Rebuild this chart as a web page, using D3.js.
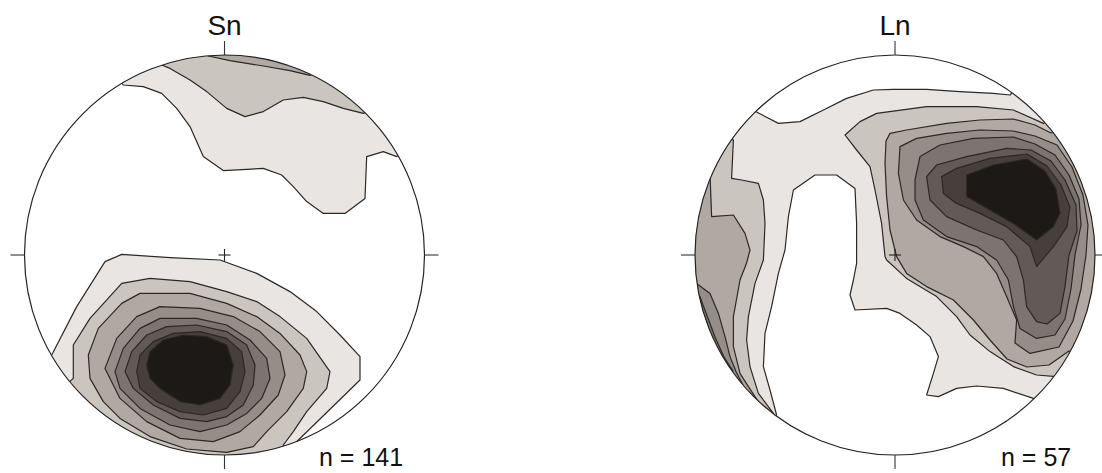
<!DOCTYPE html>
<html>
<head>
<meta charset="utf-8">
<script src="https://cdn.jsdelivr.net/npm/d3@7"></script>
<style>
  body { margin: 0; background: #fff; }
  svg { display: block; }
</style>
</head>
<body>
<div id="chart"></div>
<script>
// contour polygons in equal-area net units (percent of primitive radius, x east, y north)
// levels 1 (lowest density) .. 8 (highest)
const densityLevels = [1, 2, 3, 4, 5, 6, 7, 8];

const snContours = [
  { level: 1, pts: [[-56,92],[-50.6,85],[-40.6,84.2],[-31.4,80.8],[-23.9,73.3],[-17.25,64.2],[-10.6,49.2],[-0.6,42.2],[19.4,43.3],[28.6,40],[34.4,34.2],[41.1,26.7],[49.4,20.8],[60.25,20.8],[70.25,28.3],[71.1,49.2],[79.4,51.7],[86.1,49.2],[95,55],[60,100],[0,115],[-60,100]] },
  { level: 2, pts: [[-35,105],[-31.4,95],[-27.25,93.3],[-17.25,87.5],[-8.9,81.7],[1.1,73.3],[10.25,69.2],[19.4,71.7],[29.4,77.5],[39.4,78.8],[49.4,76.7],[59.4,73.3],[69.4,70.8],[76,74],[40,100]] },
  { level: 3, pts: [[-10,110],[-8.1,99.5],[2.75,97.2],[19.4,94.5],[32.75,92.2],[42.75,89.8],[50,95],[20,110]] },
  { level: 1, pts: [[-105,-58],[-86.4,-50],[-73.9,-25.8],[-59.75,-3.3],[-51.4,0.3],[-27.25,-1.3],[-2.25,-2.5],[16.1,-9.2],[32.75,-18.3],[46.1,-28.3],[57.75,-40],[67.75,-50.8],[67.75,-62.5],[34.4,-95],[38,-115],[-60,-110]] },
  { level: 2, pts: [[-85,-70],[-75.6,-61.7],[-75.6,-45],[-67.25,-31.7],[-51.4,-14.2],[-37.25,-11.7],[-17.25,-13.3],[1.1,-18.3],[16.1,-23.3],[27.75,-30.8],[41.1,-41.7],[52.75,-58.3],[51.1,-66.7],[41.1,-78.3],[34.4,-88.3],[29.4,-95],[28,-110],[-40,-110]] },
  { level: 3, pts: [[-67.25,-61.7],[-68.1,-50],[-63.1,-36.7],[-51.4,-24.2],[-42.25,-19.2],[-17.25,-19.2],[1.1,-24.2],[16.1,-30.8],[27.75,-39.2],[37.75,-50],[41.1,-58.3],[39.4,-66.7],[31.1,-78.3],[21.1,-88.3],[14.4,-95.8],[1.1,-98.7],[-18.9,-97],[-37.25,-90.8],[-52.25,-81.7],[-60.6,-73.3]] },
  { level: 4, pts: [[-59.75,-56.7],[-53.9,-41.7],[-43.9,-30.8],[-32.25,-25.8],[-12.25,-26.7],[4.4,-30.8],[17.75,-38.3],[27.75,-48.3],[30.25,-60],[26.9,-70],[17.75,-80],[7.75,-88.3],[-5.6,-93.3],[-22.25,-91.7],[-38.9,-83.3],[-52.25,-71.7]] },
  { level: 5, pts: [[-54.75,-58.3],[-50.6,-46.7],[-42.25,-36.7],[-32.25,-31.7],[-13.9,-31.7],[1.1,-35],[12.75,-42.5],[21.1,-51.7],[22.75,-61.7],[18.6,-71.7],[11.1,-79.2],[1.1,-85],[-12.25,-88.3],[-27.25,-85],[-42.25,-76.7],[-52.25,-66.7]] },
  { level: 6, pts: [[-49.75,-58.3],[-46.4,-48.3],[-38.9,-40],[-28.9,-35.8],[-13.9,-35],[1.1,-38.3],[11.1,-45],[15.25,-55],[14.4,-65],[9.4,-75],[1.1,-80.8],[-8.9,-83.3],[-22.25,-81.7],[-35.6,-75],[-45.6,-66.7]] },
  { level: 7, pts: [[-43.9,-58.3],[-42.25,-50],[-35.6,-43.3],[-25.6,-39.2],[-12.25,-38.3],[1.1,-41.7],[8.6,-48.3],[10.25,-58.3],[7.75,-68.3],[1.1,-76.7],[-10.6,-80],[-22.25,-78.3],[-33.9,-73.3],[-42.25,-66.7]] },
  { level: 8, pts: [[-38.9,-55],[-37.25,-48.3],[-30.6,-42.5],[-20.6,-40],[-8.9,-40.8],[1.1,-45],[4.4,-55],[2.75,-65],[-2.25,-71.7],[-12.25,-75],[-22.25,-73.3],[-32.25,-66.7],[-37.25,-61.7]] }
];

const lnContours = [
  { level: 1, pts: [[-80,78],[-69.2,71.5],[-58.3,65.8],[-47.5,66.7],[-35.8,72.5],[-24.2,78.3],[-10.8,82.5],[-0.8,82.8],[15.8,82.8],[32.5,81.7],[49.2,80.8],[57.5,80],[62,85],[110,40],[110,-40],[80,-75],[69.2,-71.7],[54.2,-66.7],[40.8,-65.5],[30.8,-66.7],[21.7,-70.8],[15.8,-70],[19.2,-59.2],[21.7,-50.8],[17.5,-40.8],[10.8,-35],[2.5,-29.2],[-4.2,-26.7],[-20,-27.5],[-22.5,-20],[-20.8,-12.5],[-19.2,-4.2],[-19.2,15.8],[-20,33.3],[-29.2,40],[-40,40],[-50.8,32.5],[-53.3,19.2],[-55,2.5],[-58.3,-9.2],[-61.7,-25.8],[-65,-39.2],[-65.8,-55.8],[-62.5,-67.5],[-59.2,-80],[-65,-90],[-112,0]] },
  { level: 2, pts: [[-90,62],[-80.8,57.5],[-81.7,38.3],[-76.7,37.5],[-68.3,35.8],[-65.8,27.5],[-65,15.8],[-65.8,-2.5],[-70,-14.2],[-73.3,-30.8],[-74.2,-42.5],[-72.5,-55.8],[-68.3,-69.2],[-60.8,-79.2],[-70,-90],[-115,0]] },
  { level: 2, pts: [[-25,60],[-17.5,66.7],[-9.2,70.8],[15.8,74.2],[40.8,74.2],[59.2,72.5],[74.2,65.8],[85,72],[112,0],[92,-70],[80.8,-60.8],[70.8,-60],[59.2,-55.8],[47.5,-48.3],[37.5,-40],[30.8,-30.8],[20.8,-20.8],[5.8,-11.7],[-4.2,-2.5],[-5,-0.8],[-6.7,15.8],[-10,32.5],[-12.5,44.2],[-19.2,52.5]] },
  { level: 3, pts: [[-100,45],[-92.5,40.8],[-91.7,19.2],[-80.8,20],[-75,10.8],[-72.5,2.5],[-74.2,-4],[-77.5,-12.5],[-80.8,-30.8],[-80.8,-45.8],[-77.5,-59.2],[-73.3,-65.8],[-66.7,-75.8],[-75,-80],[-115,0]] },
  { level: 3, pts: [[-2.5,60.8],[5.8,62.5],[25.8,65.8],[42.5,67.5],[59.2,68],[70,65],[78,61],[92,65],[115,0],[100,-60],[87,-48],[77,-55],[66,-56],[56,-52],[47.5,-42.5],[39.2,-32.5],[29.2,-22.5],[15.8,-15.8],[5.8,-9.2],[0.8,-0.8],[-2.5,12.5],[-4.2,29.2],[-5,45.8],[-4.5,57]] },
  { level: 4, pts: [[-110,-15],[-99.2,-14.2],[-92.5,-19.2],[-88.3,-29.2],[-85,-40.8],[-82.5,-50.8],[-79.4,-58.5],[-76,-65],[-85,-70]] },
  { level: 4, pts: [[2.5,54.2],[10.8,58.3],[25.8,60.8],[42.5,62.5],[59.2,62],[70,59.5],[81,55],[88.5,44],[94,30],[96.5,15],[95.5,0],[93,-17],[89,-33],[82,-46],[67.5,-49.2],[60,-44],[60.8,-32.5],[55.8,-20.8],[50.8,-9.2],[44.2,-0.8],[34.2,4.2],[22.5,9.2],[10.8,17.5],[4.2,27.5],[1.7,40.8]] },
  { level: 5, pts: [[-110,-20],[-97.5,-20.8],[-93.8,-30.8],[-90,-41],[-85.5,-51],[-81,-58],[-90,-65]] },
  { level: 5, pts: [[10,37.5],[12.5,49.2],[22.5,55],[39.2,58.3],[59.2,59],[70,55.5],[80,50],[87,40],[92,28],[93,15],[90,0],[88,-17],[85,-32],[80,-40],[70.8,-41.7],[62.5,-36.7],[59.2,-25.8],[56.7,-12.5],[50.8,-2.5],[40.8,4.2],[25.8,9.2],[14.2,17.5],[10,27.5]] },
  { level: 6, pts: [[15.8,39.2],[20.8,45],[35.8,49.2],[55.8,53.3],[68,52.5],[78,47],[85,37.5],[90.5,25],[91,12],[87,0],[85,-15.8],[82.5,-29.2],[76,-34.5],[70.8,-33.3],[65.8,-25.8],[64.2,-12.5],[60.8,-0.8],[54.2,7.5],[40.8,12.5],[25.8,19.2],[17.5,27.5]] },
  { level: 7, pts: [[23.3,39.2],[30.8,43.3],[47.5,48.3],[66,50.5],[76,44.5],[83,35],[87.5,24],[86,14.2],[79.2,4.2],[70.8,-5.8],[67.5,4.2],[55.8,14.2],[42.5,20.8],[30.8,25.8],[24.2,30.8]] },
  { level: 8, pts: [[35.8,40],[49.2,45],[66,48],[75,42],[80.5,33],[82.5,21],[79.2,14.2],[70.8,7.5],[59.2,15.8],[47.5,22.5],[35.8,29.2]] }
];

const netTitles = ["Sn", "Ln"];
const netCounts = [141, 57];

const shades = ["#e8e5e2", "#cbc5c0", "#b0a8a3", "#958d88", "#7b7470", "#615a57", "#463f3c", "#1d1916"];
const shade = d3.scaleOrdinal().domain(densityLevels).range(shades);

const width = 1102, height = 473, R = 200;
const svg = d3.select("#chart").append("svg")
  .attr("width", width)
  .attr("height", height)
  .style("font-family", "'Liberation Sans', Arial, sans-serif");

svg.append("rect").attr("width", width).attr("height", height).attr("fill", "#fff");

function drawNet(id, cx, cy, contours, title, count, countX) {
  let x = d3.scaleLinear().domain([-100, 100]).range([cx - R, cx + R]);
  let y = d3.scaleLinear().domain([-100, 100]).range([cy + R, cy - R]);
  let g = svg.append("g");

  g.append("clipPath").attr("id", id)
    .append("circle")
    .attr("cx", x(0)).attr("cy", y(0)).attr("r", x(100) - x(0));

  let line = d3.line()
    .x(d => x(d[0]))
    .y(d => y(d[1]))
    .curve(d3.curveLinearClosed);

  let sorted = contours.slice().sort((a, b) => a.level - b.level);

  g.append("g")
    .attr("clip-path", `url(#${id})`)
    .selectAll("path")
    .data(sorted)
    .join("path")
    .attr("d", d => line(d.pts))
    .attr("fill", d => shade(d.level))
    .attr("stroke", "#2b2826")
    .attr("stroke-width", 1.2)
    .attr("stroke-linejoin", "round");

  // primitive circle
  g.append("circle")
    .attr("cx", x(0)).attr("cy", y(0)).attr("r", x(100) - x(0))
    .attr("fill", "none")
    .attr("stroke", "#222")
    .attr("stroke-width", 1.2);

  // N/E/S/W ticks
  let t = 7;
  let ticks = [
    [[0, 100], [0, 100 + t]],
    [[0, -100], [0, -100 - t]],
    [[-100, 0], [-100 - t, 0]],
    [[100, 0], [100 + t, 0]]
  ];
  g.selectAll(".tick").data(ticks).join("line")
    .attr("class", "tick")
    .attr("x1", d => x(d[0][0])).attr("y1", d => y(d[0][1]))
    .attr("x2", d => x(d[1][0])).attr("y2", d => y(d[1][1]))
    .attr("stroke", "#333").attr("stroke-width", 1.1);

  // centre cross
  let c = 3;
  g.selectAll(".cross").data([[[-c, 0], [c, 0]], [[0, -c], [0, c]]]).join("line")
    .attr("class", "cross")
    .attr("x1", d => x(d[0][0])).attr("y1", d => y(d[0][1]))
    .attr("x2", d => x(d[1][0])).attr("y2", d => y(d[1][1]))
    .attr("stroke", "#222").attr("stroke-width", 1.1);

  g.append("text")
    .attr("x", x(0)).attr("y", y(100) - 20)
    .attr("text-anchor", "middle")
    .attr("font-size", 28)
    .attr("fill", "#111")
    .text(title);

  g.append("text")
    .attr("x", countX).attr("y", 466)
    .attr("font-size", 25)
    .attr("fill", "#111")
    .text("n = " + count);
}

drawNet("clipSn", 224.5, 255, snContours, netTitles[0], netCounts[0], 319);
drawNet("clipLn", 895, 255, lnContours, netTitles[1], netCounts[1], 1001);
</script>
</body>
</html>
